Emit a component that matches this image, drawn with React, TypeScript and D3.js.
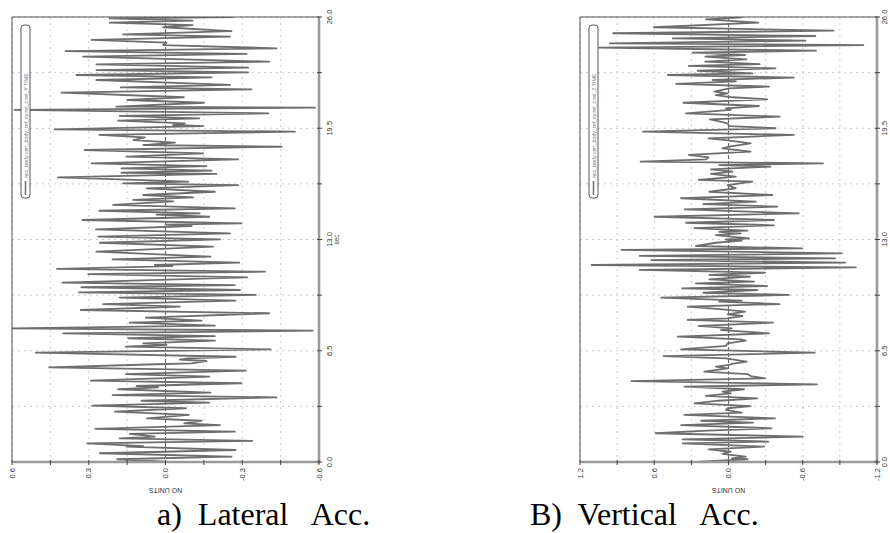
import React from "react";
import * as d3 from "d3";

// ---------- data ----------
const lateralT = [26.0,25.92,25.79,25.67,25.53,25.40,25.18,24.99,24.85,24.66,24.50,24.36,24.17,24.01,23.84,23.68,23.39,23.23,23.04,22.90,22.77,22.61,22.47,22.32,22.03,21.89,21.77,21.58,21.31,21.15,20.99,20.76,20.70,20.57,20.37,20.22,20.08,19.94,19.79,19.69,19.63,19.44,19.30,19.11,18.97,18.81,18.66,18.52,18.42,18.23,18.03,17.84,17.68,17.45,17.29,17.16,17.02,16.90,16.83,16.63,16.38,16.28,16.18,15.99,15.79,15.60,15.46,15.31,15.23,15.02,14.82,14.68,14.53,14.45,14.33,14.14,13.94,13.87,13.79,13.59,13.36,13.17,13.01,12.81,12.58,12.29,12.00,11.84,11.65,11.51,11.45,11.28,11.12,10.98,10.79,10.48,10.34,10.21,10.05,9.91,9.76,9.60,9.43,9.23,9.08,8.88,8.69,8.43,8.26,8.14,7.97,7.81,7.67,7.52,7.36,7.23,7.09,6.93,6.84,6.74,6.58,6.39,6.15,6.06,5.98,5.90,5.76,5.71,5.53,5.34,5.14,4.99,4.75,4.60,4.44,4.36,4.25,4.05,3.91,3.78,3.58,3.47,3.29,3.14,2.94,2.75,2.55,2.41,2.26,2.16,1.93,1.77,1.64,1.48,1.38,1.23,1.09,0.93,0.90,0.70,0.51,0.31,0.16,0.02];
const lateralV = [-0.265,0.218,-0.106,0.218,-0.106,0.009,-0.258,0.166,-0.252,0.289,-0.004,0.009,-0.434,0.391,-0.317,0.322,-0.405,0.270,-0.323,0.270,-0.323,0.348,-0.180,0.270,-0.252,0.175,-0.336,0.407,-0.072,0.149,-0.150,0.192,-0.584,0.590,-0.402,0.179,-0.132,0.185,-0.076,-0.030,-0.147,0.433,-0.506,0.259,0.081,0.126,-0.037,0.087,-0.454,0.316,-0.147,0.153,-0.284,0.289,-0.160,0.172,-0.180,0.172,-0.199,0.420,-0.089,0.166,-0.284,0.074,-0.193,0.087,-0.108,0.126,-0.030,0.205,-0.271,0.259,-0.134,0.035,-0.171,0.325,-0.297,0.000,-0.102,0.272,-0.252,0.263,-0.213,0.257,-0.186,0.270,-0.176,0.207,-0.288,0.042,-0.027,0.424,-0.389,0.302,-0.319,0.403,-0.271,0.329,-0.291,0.338,-0.353,0.179,-0.274,0.244,-0.056,0.331,-0.405,0.077,-0.141,0.140,-0.193,0.600,-0.575,0.400,-0.193,0.146,-0.193,0.087,-0.004,0.155,-0.411,0.507,-0.274,-0.089,-0.056,-0.160,-0.102,0.038,0.455,-0.314,0.155,-0.171,0.292,-0.297,0.113,0.029,0.185,-0.176,0.207,-0.434,0.094,-0.171,0.286,-0.080,0.198,-0.091,0.072,-0.141,-0.073,-0.213,0.274,-0.271,0.140,0.042,0.179,-0.339,0.306,0.087,0.153,-0.274,0.257,-0.258,0.189,-0.004];

const verticalT = [25.98,25.86,25.67,25.40,25.20,25.05,24.89,24.75,24.62,24.46,24.36,24.21,24.03,23.92,23.78,23.68,23.53,23.39,23.25,23.14,23.00,22.86,22.71,22.61,22.46,22.32,22.24,22.09,21.93,21.83,21.64,21.54,21.44,21.31,21.19,20.99,20.80,20.66,20.57,20.37,20.18,20.02,19.94,19.79,19.63,19.50,19.30,19.11,18.91,18.81,18.62,18.42,18.33,18.13,17.94,17.80,17.68,17.55,17.45,17.35,17.26,17.10,16.96,16.83,16.67,16.48,16.38,16.18,15.99,15.79,15.60,15.41,15.21,15.07,14.92,14.76,14.53,14.33,14.14,13.98,13.83,13.67,13.52,13.44,13.36,13.26,13.07,13.00,12.93,12.81,12.62,12.48,12.39,12.19,12.04,11.90,11.80,11.65,11.51,11.37,11.22,11.06,10.93,10.83,10.67,10.54,10.44,10.28,10.15,10.05,9.89,9.76,9.60,9.43,9.37,9.23,9.08,8.92,8.78,8.63,8.53,8.39,8.30,8.14,7.95,7.81,7.71,7.52,7.32,7.17,7.09,6.93,6.78,6.58,6.39,6.19,6.06,5.86,5.73,5.67,5.57,5.47,5.28,5.14,5.02,4.89,4.73,4.54,4.40,4.25,4.11,4.01,3.86,3.72,3.58,3.43,3.27,3.14,3.04,2.88,2.75,2.55,2.41,2.30,2.16,1.97,1.83,1.68,1.48,1.32,1.19,1.09,0.90,0.74,0.60,0.47,0.31,0.21,0.16,0.02];
const verticalV = [-0.107,0.182,-0.241,0.603,-0.849,0.932,-0.702,0.450,-0.622,0.959,-1.090,1.045,-0.707,0.289,-0.134,0.188,-0.145,0.188,-0.252,0.321,-0.380,0.249,-0.193,0.490,-0.528,0.129,-0.059,0.423,-0.327,-0.005,0.115,0.008,0.102,-0.032,-0.313,0.364,-0.246,0.021,-0.019,0.343,-0.413,0.150,0.102,0.008,-0.005,-0.380,0.691,-0.528,0.161,0.021,-0.179,-0.005,0.050,-0.179,0.321,0.161,0.182,0.710,-0.764,0.075,-0.340,0.142,-0.032,0.142,-0.059,0.241,-0.193,0.008,-0.059,0.155,-0.354,0.383,-0.220,0.204,-0.394,0.354,-0.568,0.597,-0.367,0.343,-0.367,0.276,-0.153,0.075,-0.099,0.102,-0.166,0.021,-0.107,0.102,0.263,-0.595,0.865,-0.916,0.718,-0.863,0.624,-0.943,1.106,-1.029,0.718,-0.295,0.155,-0.174,0.155,-0.206,0.263,-0.313,0.375,-0.233,0.204,-0.488,0.544,-0.107,0.075,-0.413,0.330,0.048,-0.134,0.008,-0.113,0.008,0.330,-0.359,0.241,-0.027,0.062,-0.327,0.410,-0.099,-0.139,0.008,0.021,0.383,-0.697,0.525,0.021,-0.147,-0.027,-0.005,0.102,0.008,0.196,-0.153,-0.179,-0.295,0.785,-0.715,0.356,-0.126,0.048,-0.019,0.182,-0.233,0.080,0.276,-0.179,0.008,0.021,-0.107,0.356,-0.375,0.222,-0.198,0.383,-0.348,0.169,0.589,-0.600,0.370,-0.321,0.370,-0.287,0.161,-0.019,0.048,-0.139,-0.027,-0.153,0.236];

const timeGrid = [0, 3.25, 6.5, 9.75, 13, 16.25, 19.5, 22.75, 26];
const timeTicks = [0, 6.5, 13, 19.5, 26];
const timeTickLabels = ["0.0", "6.5", "13.0", "19.5", "26.0"];

const latGrid = [0.6, 0.45, 0.3, 0.15, 0, -0.15, -0.3, -0.45, -0.6];
const latTicks = [0.6, 0.3, 0, -0.3, -0.6];
const latTickLabels = ["0.6", "0.3", "0.0", "-0.3", "-0.6"];

const vertGrid = [1.2, 0.9, 0.6, 0.3, 0, -0.3, -0.6, -0.9, -1.2];
const vertTicks = [1.2, 0.6, 0, -0.6, -1.2];
const vertTickLabels = ["1.2", "0.6", "0.0", "-0.6", "-1.2"];

const titles = ["a)  Lateral   Acc.", "B)  Vertical   Acc."];
const legendLabels = [
  "acc_body.vert_body_ref_xy.rel_z.rel_Y TIME",
  "acc_body.vert_body_ref_xy.rel_z.rel_Z TIME",
];

const SANS = "'Liberation Sans', Arial, sans-serif";
const SERIF = "'Liberation Serif', 'Times New Roman', serif";

type PlotProps = {
  id: string;
  x0: number; x1: number; y0: number; y1: number;
  vmax: number;
  grid: number[]; ticks: number[]; tickLabels: string[];
  ts: number[]; vs: number[];
  legend: string;
  labelOffset: number;
  showSec: boolean;
};

function Plot(p: PlotProps) {
  const x = d3.scaleLinear().domain([p.vmax, -p.vmax]).range([p.x0, p.x1]);
  const y = d3.scaleLinear().domain([0, 26]).range([p.y1, p.y0]);
  const pts = p.ts.map((t, i) => [t, p.vs[i]] as [number, number]).sort((a, b) => a[0] - b[0]);
  const line = d3.line<[number, number]>().x(d => x(d[1])).y(d => y(d[0]));
  const midX = x(0);
  const midY = y(13);
  return (
    <g>
      <defs>
        <clipPath id={p.id}>
          <rect x={p.x0} y={p.y0} width={p.x1 - p.x0} height={p.y1 - p.y0} />
        </clipPath>
      </defs>
      {/* grid */}
      {p.grid.map((v, i) => (
        <line key={"gv" + i} x1={x(v)} x2={x(v)} y1={p.y0} y2={p.y1}
          stroke={v === 0 ? "#666" : "#c4c4c4"} strokeWidth={v === 0 ? 1.1 : 0.9}
          strokeDasharray={v === 0 ? "4,2" : "2,4"} />
      ))}
      {timeGrid.map((t, i) => (
        <line key={"gt" + i} x1={p.x0} x2={p.x1} y1={y(t)} y2={y(t)}
          stroke="#c4c4c4" strokeWidth={0.9} strokeDasharray="2,4" />
      ))}
      {/* data */}
      <path d={line(pts) || ""} fill="none" stroke="#6e6e6e" strokeWidth={1.8}
        strokeLinejoin="round" clipPath={`url(#${p.id})`} />
      {/* frame */}
      <line x1={p.x0} x2={p.x1} y1={p.y0} y2={p.y0} stroke="#555" strokeWidth={1} />
      <line x1={p.x0} x2={p.x0} y1={p.y0} y2={p.y1} stroke="#555" strokeWidth={1} />
      <line x1={p.x1} x2={p.x1} y1={p.y0 - 0.5} y2={p.y1 + 1.5} stroke="#9a9a9a" strokeWidth={2.6} />
      <line x1={p.x0} x2={p.x1 + 1.3} y1={p.y1} y2={p.y1} stroke="#9a9a9a" strokeWidth={2.6} />
      {/* axis ticks */}
      {timeGrid.map((t, i) => (
        <line key={"tt" + i} x1={p.x1 - 2} x2={p.x1 + 3} y1={y(t)} y2={y(t)} stroke="#444" strokeWidth={1} />
      ))}
      {p.grid.map((v, i) => (
        <line key={"tv" + i} x1={x(v)} x2={x(v)} y1={p.y1 - 2} y2={p.y1 + 3} stroke="#444" strokeWidth={1} />
      ))}
      {/* time labels */}
      {timeTicks.map((t, i) => (
        <text key={"lt" + i} transform={`translate(${p.x1 + p.labelOffset},${y(t)}) rotate(-90)`}
          textAnchor="middle" dominantBaseline="central" fontSize={7.5}
          fontFamily={SANS} fill="#333">{timeTickLabels[i]}</text>
      ))}
      {p.showSec && (
        <text transform={`translate(${p.x1 + 17},${midY}) rotate(-90)`} textAnchor="middle"
          dominantBaseline="central" fontSize={6.5} fontFamily={SANS} fill="#333">sec</text>
      )}
      {/* value labels */}
      {p.ticks.map((v, i) => (
        <text key={"lv" + i} transform={`translate(${x(v)},${p.y1 + 6}) rotate(-90)`}
          textAnchor="end" dominantBaseline="central" fontSize={7.5}
          fontFamily={SANS} fill="#333">{p.tickLabels[i]}</text>
      ))}
      <text transform={`translate(${midX},${p.y1 + 28}) rotate(180)`} textAnchor="middle"
        dominantBaseline="central" fontSize={7} fontFamily={SANS} fill="#333">NO UNITS</text>
      {/* legend */}
      <rect x={p.x0 + 9} y={25} width={9} height={173} rx={3} fill="#fff" stroke="#555" strokeWidth={1} />
      <line x1={p.x0 + 13.5} x2={p.x0 + 13.5} y1={195} y2={181} stroke="#6e6e6e" strokeWidth={1.5} />
      <text transform={`translate(${p.x0 + 13.5},${178}) rotate(-90)`} textAnchor="start"
        dominantBaseline="central" fontSize={5.3} fontFamily={SANS} fill="#777">{p.legend}</text>
    </g>
  );
}

export default function App() {
  return (
    <svg width={890} height={533} viewBox="0 0 890 533"
      style={{ position: "absolute", left: 0, top: 0, display: "block", background: "#fff" }}>
      <Plot id="clipL" x0={12} x1={319} y0={17} y1={462} vmax={0.6}
        grid={latGrid} ticks={latTicks} tickLabels={latTickLabels}
        ts={lateralT} vs={lateralV} legend={legendLabels[0]} labelOffset={10} showSec={true} />
      <Plot id="clipR" x0={580} x1={877} y0={17} y1={462} vmax={1.2}
        grid={vertGrid} ticks={vertTicks} tickLabels={vertTickLabels}
        ts={verticalT} vs={verticalV} legend={legendLabels[1]} labelOffset={7.5} showSec={false} />
      <text x={157} y={525} fontSize={32} fontFamily={SERIF}
        fill="#000" style={{ whiteSpace: "pre" }}>{titles[0]}</text>
      <text x={530} y={525} fontSize={32} fontFamily={SERIF}
        fill="#000" style={{ whiteSpace: "pre" }}>{titles[1]}</text>
    </svg>
  );
}
